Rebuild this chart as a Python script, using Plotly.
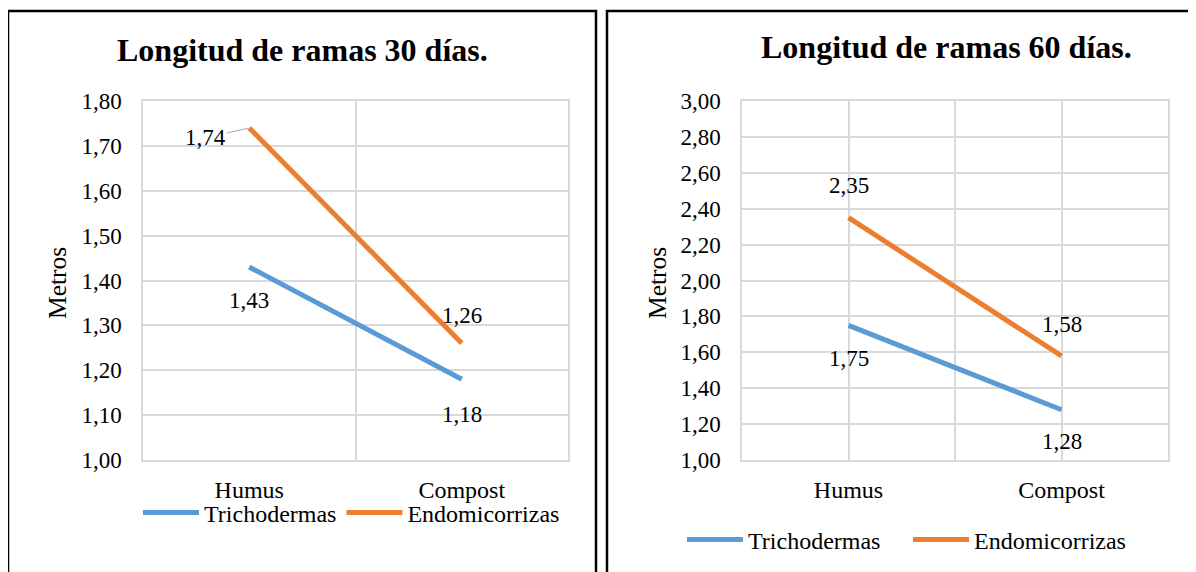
import plotly.graph_objects as go

# ---- data ----
categories = ["Humus", "Compost"]
series_names = ["Trichodermas", "Endomicorrizas"]
tricho_30 = [1.43, 1.18]
endo_30 = [1.74, 1.26]
tricho_60 = [1.75, 1.28]
endo_60 = [2.35, 1.58]
titles = ["Longitud de ramas 30 días.", "Longitud de ramas 60 días."]
y_title = "Metros"

W, H = 1196, 572
OFF = 8  # page body offset
BLUE = "#5B9BD5"
ORANGE = "#ED7D31"
GRID = "#D9D9D9"
FONT = "Liberation Serif"
FS = 23


def px(x):
    return (x - OFF) / W


def py(y):
    return 1 - (y - OFF) / H


def fmt(v):
    return f"{v:.2f}".replace(".", ",")


xs = list(range(len(categories)))

fig = go.Figure()

panels = [
    dict(xa="x", ya="y", lg="legend", data=[tricho_30, endo_30]),
    dict(xa="x2", ya="y2", lg="legend2", data=[tricho_60, endo_60]),
]
colors = [BLUE, ORANGE]

for p in panels:
    for name, vals, col in zip(series_names, p["data"], colors):
        fig.add_trace(go.Scatter(
            x=xs, y=vals, name=name, mode="lines",
            line=dict(color=col, width=5),
            xaxis=p["xa"], yaxis=p["ya"], legend=p["lg"],
            hoverinfo="skip",
        ))

annotations = []
label_specs = [
    ("x", "y", tricho_30, [-33, -35]),
    ("x", "y", endo_30, [None, 28]),
    ("x2", "y2", tricho_60, [-33, -32]),
    ("x2", "y2", endo_60, [32, 31]),
]
for xa, ya, vals, shifts in label_specs:
    for i, (v, s) in enumerate(zip(vals, shifts)):
        if s is None:
            annotations.append(dict(
                xref=xa, yref=ya, x=xs[i], y=v, text=fmt(v),
                showarrow=True, arrowhead=0, arrowwidth=1,
                arrowcolor="#A6A6A6", ax=-44, ay=10, standoff=1,
                font=dict(family=FONT, size=FS, color="black"),
            ))
        else:
            annotations.append(dict(
                xref=xa, yref=ya, x=xs[i], y=v, text=fmt(v),
                showarrow=False, yshift=s,
                font=dict(family=FONT, size=FS, color="black"),
            ))

annotations.append(dict(xref="paper", yref="paper", x=px(302), y=py(50),
                        text=f"<b>{titles[0]}</b>", showarrow=False,
                        xanchor="center", yanchor="middle",
                        font=dict(family=FONT, size=32, color="black")))
annotations.append(dict(xref="paper", yref="paper", x=px(946), y=py(47),
                        text=f"<b>{titles[1]}</b>", showarrow=False,
                        xanchor="center", yanchor="middle",
                        font=dict(family=FONT, size=32, color="black")))
for xc in (57, 657):
    annotations.append(dict(xref="paper", yref="paper", x=px(xc), y=py(283),
                            text=y_title, textangle=-90, showarrow=False,
                            xanchor="center", yanchor="middle",
                            font=dict(family=FONT, size=25.5, color="black")))

shapes = [
    dict(type="rect", xref="paper", yref="paper",
         x0=px(8), x1=px(596), y0=py(660), y1=py(11),
         line=dict(color="black", width=2.5), fillcolor="rgba(0,0,0,0)"),
    dict(type="rect", xref="paper", yref="paper",
         x0=px(607), x1=px(1300), y0=py(660), y1=py(11),
         line=dict(color="black", width=2.5), fillcolor="rgba(0,0,0,0)"),
]

ydom = [py(460), py(101)]
tickfont = dict(family=FONT, size=FS, color="black")
catfont = dict(family=FONT, size=24, color="black")

common_x = dict(range=[-0.5, 1.5], tickvals=xs, ticktext=categories,
                zeroline=False, showline=True, mirror=True, linecolor=GRID,
                linewidth=1.5, ticks="", ticklabelstandoff=7,
                tickfont=catfont, fixedrange=True, automargin=False)
common_y = dict(tickformat=".2f", zeroline=False, showline=True, mirror=True,
                linecolor=GRID, linewidth=1.5, gridcolor=GRID, gridwidth=1.5,
                ticks="", ticklabelstandoff=15, tickfont=tickfont,
                fixedrange=True, automargin=False)

legend_common = dict(orientation="h", xanchor="left", yanchor="middle",
                     font=dict(family=FONT, size=24, color="black"),
                     bgcolor="rgba(0,0,0,0)", itemwidth=56,
                     entrywidthmode="pixels",
                     itemclick=False, itemdoubleclick=False)

fig.update_layout(
    width=W, height=H,
    margin=dict(l=0, r=0, t=0, b=0, autoexpand=False),
    paper_bgcolor="white", plot_bgcolor="white",
    separators=",.",
    showlegend=True,
    font=dict(family=FONT, color="black"),
    xaxis=dict(domain=[px(143), px(568)], anchor="y", showgrid=False,
               minor=dict(tickvals=[-0.5, 0.5, 1.5], showgrid=True,
                          gridcolor=GRID, gridwidth=1.5),
               **common_x),
    yaxis=dict(domain=ydom, anchor="x", range=[1.0, 1.8], tick0=1.0,
               dtick=0.1, **common_y),
    xaxis2=dict(domain=[px(742), px(1168)], anchor="y2", showgrid=True,
                gridcolor=GRID, gridwidth=1.5,
                minor=dict(tickvals=[-0.5, 0.5, 1.5], showgrid=True,
                           gridcolor=GRID, gridwidth=1.5),
                **common_x),
    yaxis2=dict(domain=ydom, anchor="x2", range=[1.0, 3.0], tick0=1.0,
                dtick=0.2, **common_y),
    legend=dict(x=px(138), y=py(513), entrywidth=0, **legend_common),
    legend2=dict(x=px(682), y=py(540), entrywidth=155, **legend_common),
    annotations=annotations,
    shapes=shapes,
)

fig.write_html("out.html")
